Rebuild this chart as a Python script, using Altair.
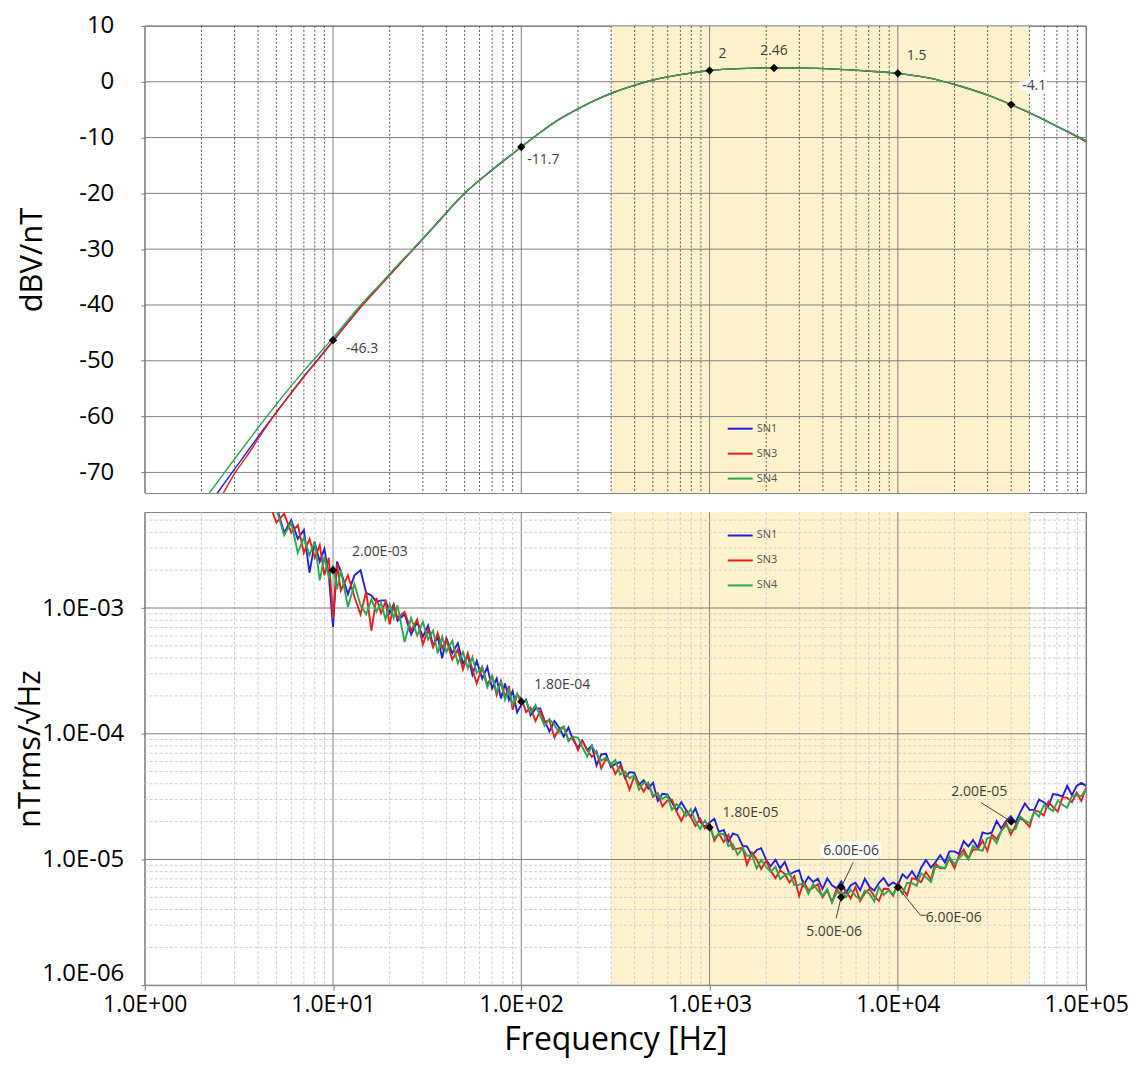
import altair as alt
import pandas as pd

# ---------------- data ----------------
SERIES = ["SN1", "SN3", "SN4"]
COLORS = ["#2020E0", "#E8201A", "#28A850"]

# upper panel: sensitivity [dBV/nT]
gain_freq = [2.0, 2.5, 3, 3.5, 4, 5, 6, 7, 8.2, 10, 12, 14.3, 18, 22, 26.7, 35, 50, 70, 100,
             126, 158, 200, 251, 316, 398, 501, 631, 794, 1000, 1259, 1585, 2200, 3162, 4600,
             7000, 10000, 15000, 20000, 30000, 40000, 55000, 70000, 85000, 100000]
gain_sn1 = [-77.5, -73.1, -69.4, -66.3, -63.6, -59.2, -55.7, -52.8, -50.0, -46.4, -43.1, -40.0,
            -36.3, -33.1, -30.0, -25.7, -20.0, -15.8, -11.7,
            -9.1, -6.8, -4.85, -3.2, -1.8, -0.65, 0.3, 1.0, 1.55, 2.0, 2.25, 2.4, 2.46, 2.43, 2.25,
            1.9, 1.5, 0.6, -0.5, -2.4, -4.1, -6.2, -8.0, -9.4, -10.6]
gain_sn3 = [-79.5, -74.8, -70.2, -67.0, -64.0, -59.3, -55.8, -52.9, -50.1, -46.5, -43.2, -40.1,
            -36.4, -33.1, -30.0, -25.6, -20.0, -15.8, -11.7,
            -9.1, -6.8, -4.85, -3.2, -1.8, -0.65, 0.3, 1.0, 1.55, 2.0, 2.25, 2.4, 2.46, 2.43, 2.25,
            1.9, 1.5, 0.6, -0.5, -2.4, -4.1, -6.2, -8.0, -9.5, -10.8]
gain_sn4 = [-75.6, -71.2, -67.6, -64.6, -62.0, -57.8, -54.5, -51.8, -49.2, -45.9, -42.7, -39.7,
            -36.1, -32.9, -29.9, -25.6, -20.0, -15.8, -11.7,
            -9.1, -6.8, -4.85, -3.2, -1.8, -0.65, 0.3, 1.0, 1.55, 2.0, 2.25, 2.4, 2.46, 2.43, 2.25,
            1.9, 1.5, 0.6, -0.5, -2.4, -4.1, -6.2, -8.0, -9.4, -10.6]

# lower panel: noise [nTrms/sqrt(Hz)]
noise_freq = [4, 4.5, 5, 5.5, 6, 6.5, 7, 7.5, 8, 8.5, 9, 9.5, 10, 10.5, 11, 12, 13, 14, 15, 16,
              17, 18, 19, 20, 21, 22, 24, 26, 28, 30, 32, 34, 36, 38, 40, 43, 46, 49, 52, 55,
              58, 62, 66, 70, 74, 78, 82, 86, 90, 95,
              100, 106, 112, 119, 126, 133, 141, 150, 158, 168, 178, 188, 200, 211, 224, 237,
              251, 266, 282, 299, 316, 335, 355, 376, 398, 422, 447, 473, 501, 531, 562, 596,
              631, 668, 708, 750, 794, 841, 891, 944,
              1000, 1060, 1120, 1190, 1260, 1330, 1410, 1500, 1580, 1680, 1780, 1880, 2000, 2110,
              2240, 2370, 2510, 2660, 2820, 2990, 3160, 3350, 3550, 3760, 3980, 4220, 4470, 4730,
              5010, 5310, 5620, 5960, 6310, 6680, 7080, 7500, 7940, 8410, 8910, 9440,
              10000, 10600, 11200, 11900, 12600, 13300, 14100, 15000, 15800, 16800, 17800, 18800,
              20000, 21100, 22400, 23700, 25100, 26600, 28200, 29900, 31600, 33500, 35500, 37600,
              39800, 42200, 44700, 47300, 50100, 53100, 56200, 59600, 63100, 66800, 70800, 75000,
              79400, 84100, 89100, 94400, 100000]
noise_sn1 = [8.32e-3, 5.89e-3, 6.46e-3, 3.98e-3, 5.01e-3, 3.55e-3, 4.17e-3, 1.91e-3, 3.31e-3, 2.34e-3,
             2.95e-3, 1.82e-3, 7.08e-4, 2.34e-3, 1.95e-3, 1.29e-3, 1.82e-3, 2.00e-3, 1.32e-3, 1.26e-3,
             1.12e-3, 1.15e-3, 1.15e-3, 9.12e-4, 1.07e-3, 7.94e-4, 8.91e-4, 6.17e-4, 7.76e-4, 5.89e-4,
             7.24e-4, 5.01e-4, 5.89e-4, 3.98e-4, 5.75e-4, 4.37e-4, 5.25e-4, 3.63e-4, 4.17e-4, 2.95e-4,
             3.80e-4, 2.75e-4, 3.39e-4, 2.29e-4, 2.75e-4, 1.91e-4, 2.51e-4, 1.86e-4, 2.19e-4, 1.48e-4,
             1.70e-4, 1.87e-4, 1.40e-4, 1.58e-4, 1.59e-4, 1.27e-4, 1.04e-4, 1.26e-4, 1.13e-4, 9.48e-5,
             1.12e-4, 9.02e-5, 7.76e-5, 8.81e-5, 7.41e-5, 8.04e-5, 5.62e-5, 6.84e-5, 6.92e-5, 5.43e-5,
             5.75e-5, 5.96e-5, 4.47e-5, 4.95e-5, 4.90e-5, 3.94e-5, 4.27e-5, 3.67e-5, 4.07e-5, 2.92e-5,
             3.33e-5, 3.30e-5, 2.85e-5, 2.46e-5, 2.86e-5, 2.48e-5, 2.19e-5, 2.55e-5, 2.00e-5, 1.82e-5,
             1.97e-5, 2.11e-5, 1.66e-5, 1.72e-5, 1.39e-5, 1.61e-5, 1.56e-5, 1.28e-5, 1.27e-5, 1.07e-5,
             1.19e-5, 1.23e-5, 9.89e-6, 8.83e-6, 9.93e-6, 8.49e-6, 9.55e-6, 7.60e-6, 7.98e-6, 8.20e-6,
             6.24e-6, 7.28e-6, 6.61e-6, 7.03e-6, 5.82e-6, 7.08e-6, 6.24e-6, 5.89e-6, 6.68e-6, 5.43e-6,
             6.24e-6, 6.53e-6, 5.69e-6, 7.03e-6, 6.03e-6, 5.65e-6, 6.53e-6, 7.11e-6, 6.17e-6, 6.56e-6,
             6.24e-6, 7.62e-6, 7.08e-6, 8.07e-6, 7.00e-6, 8.61e-6, 9.89e-6, 8.61e-6, 9.44e-6, 1.08e-5,
             9.44e-6, 1.16e-5, 1.16e-5, 1.11e-5, 1.40e-5, 1.27e-5, 1.43e-5, 1.24e-5, 1.64e-5, 1.60e-5,
             1.64e-5, 2.02e-5, 1.76e-5, 2.02e-5, 2.21e-5, 1.97e-5, 2.37e-5, 2.79e-5, 2.48e-5, 2.48e-5,
             2.99e-5, 2.85e-5, 2.66e-5, 3.31e-5, 3.27e-5, 3.16e-5, 3.85e-5, 3.24e-5, 3.85e-5, 4.07e-5,
             3.85e-5]
noise_sn3 = [7.41e-3, 7.41e-3, 4.79e-3, 5.62e-3, 3.98e-3, 4.57e-3, 2.75e-3, 3.55e-3, 2.51e-3, 3.16e-3,
             1.82e-3, 2.51e-3, 8.32e-4, 2.24e-3, 1.38e-3, 1.82e-3, 1.23e-3, 8.91e-4, 1.35e-3, 6.61e-4,
             1.20e-3, 9.12e-4, 1.12e-3, 7.41e-4, 1.05e-3, 8.32e-4, 9.33e-4, 6.61e-4, 8.13e-4, 5.13e-4,
             6.76e-4, 4.90e-4, 6.31e-4, 4.79e-4, 5.62e-4, 3.89e-4, 4.68e-4, 3.24e-4, 4.37e-4, 3.24e-4,
             2.51e-4, 3.39e-4, 2.45e-4, 2.88e-4, 2.04e-4, 2.63e-4, 1.95e-4, 2.40e-4, 1.55e-4, 2.04e-4,
             1.91e-4, 1.49e-4, 1.61e-4, 1.26e-4, 1.52e-4, 1.24e-4, 1.28e-4, 9.35e-5, 1.08e-4, 1.14e-4,
             8.91e-5, 9.44e-5, 7.41e-5, 8.81e-5, 7.41e-5, 6.53e-5, 7.24e-5, 5.31e-5, 6.31e-5, 5.82e-5,
             4.79e-5, 5.56e-5, 4.57e-5, 3.59e-5, 4.57e-5, 4.03e-5, 3.47e-5, 4.03e-5, 3.16e-5, 3.36e-5,
             2.64e-5, 2.94e-5, 2.99e-5, 2.40e-5, 2.03e-5, 2.42e-5, 2.19e-5, 1.85e-5, 2.10e-5, 1.77e-5,
             1.93e-5, 1.41e-5, 1.61e-5, 1.38e-5, 1.57e-5, 1.21e-5, 1.22e-5, 1.24e-5, 9.08e-6, 1.13e-5,
             9.98e-6, 8.41e-6, 9.77e-6, 8.15e-6, 7.11e-6, 8.20e-6, 7.67e-6, 6.55e-6, 7.36e-6, 5.12e-6,
             6.61e-6, 5.71e-6, 5.96e-6, 6.34e-6, 5.01e-6, 5.69e-6, 4.57e-6, 5.82e-6, 5.13e-6, 5.62e-6,
             4.90e-6, 6.03e-6, 4.68e-6, 5.40e-6, 5.82e-6, 5.09e-6, 4.68e-6, 5.85e-6, 5.82e-6, 5.15e-6,
             6.46e-6, 5.85e-6, 5.19e-6, 7.11e-6, 6.92e-6, 6.61e-6, 7.94e-6, 6.92e-6, 9.33e-6, 8.51e-6,
             8.51e-6, 1.02e-5, 8.51e-6, 1.07e-5, 1.20e-5, 1.02e-5, 1.20e-5, 1.20e-5, 1.41e-5, 1.17e-5,
             1.58e-5, 1.45e-5, 1.70e-5, 1.95e-5, 1.58e-5, 1.86e-5, 2.14e-5, 2.00e-5, 1.82e-5, 2.45e-5,
             2.40e-5, 2.24e-5, 2.88e-5, 2.60e-5, 2.40e-5, 3.13e-5, 3.09e-5, 2.85e-5, 3.39e-5, 2.92e-5,
             3.72e-5]
noise_sn4 = [8.91e-3, 6.46e-3, 6.17e-3, 3.80e-3, 4.79e-3, 2.75e-3, 3.63e-3, 2.63e-3, 3.39e-3, 1.66e-3,
             2.57e-3, 1.74e-3, 2.19e-3, 1.41e-3, 2.00e-3, 1.02e-3, 1.55e-3, 1.05e-3, 8.91e-4, 1.17e-3,
             9.33e-4, 1.10e-3, 8.13e-4, 1.07e-3, 8.32e-4, 1.05e-3, 5.37e-4, 8.32e-4, 6.03e-4, 7.76e-4,
             5.62e-4, 6.61e-4, 4.37e-4, 5.89e-4, 4.47e-4, 5.50e-4, 3.63e-4, 4.47e-4, 3.31e-4, 4.07e-4,
             3.02e-4, 3.39e-4, 2.34e-4, 2.88e-4, 2.14e-4, 2.57e-4, 1.86e-4, 2.24e-4, 1.70e-4, 2.09e-4,
             1.74e-4, 1.83e-4, 1.47e-4, 1.69e-4, 1.39e-4, 1.16e-4, 1.31e-4, 1.18e-4, 1.03e-4, 1.14e-4,
             8.71e-5, 9.44e-5, 9.33e-5, 7.85e-5, 6.61e-5, 8.04e-5, 6.92e-5, 6.10e-5, 6.46e-5, 5.69e-5,
             6.17e-5, 4.73e-5, 5.01e-5, 4.42e-5, 4.68e-5, 3.59e-5, 4.07e-5, 4.03e-5, 3.24e-5, 3.28e-5,
             3.03e-5, 3.23e-5, 2.48e-5, 2.76e-5, 2.55e-5, 2.21e-5, 2.51e-5, 2.02e-5, 1.75e-5, 2.04e-5,
             1.80e-5, 1.48e-5, 1.61e-5, 1.59e-5, 1.28e-5, 1.32e-5, 1.09e-5, 1.24e-5, 1.07e-5, 1.08e-5,
             8.49e-6, 9.89e-6, 8.71e-6, 7.96e-6, 8.75e-6, 6.98e-6, 7.50e-6, 7.87e-6, 6.27e-6, 6.30e-6,
             6.46e-6, 5.33e-6, 6.38e-6, 5.65e-6, 5.13e-6, 5.82e-6, 4.57e-6, 5.43e-6, 5.50e-6, 5.01e-6,
             5.75e-6, 5.13e-6, 4.79e-6, 5.65e-6, 5.31e-6, 4.65e-6, 6.03e-6, 5.21e-6, 5.69e-6, 5.27e-6,
             6.17e-6, 5.33e-6, 6.53e-6, 6.49e-6, 6.17e-6, 7.76e-6, 7.24e-6, 6.61e-6, 8.71e-6, 8.71e-6,
             8.51e-6, 1.05e-5, 9.12e-6, 1.02e-5, 1.12e-5, 1.00e-5, 1.29e-5, 1.20e-5, 1.17e-5, 1.48e-5,
             1.51e-5, 1.35e-5, 1.70e-5, 1.86e-5, 1.70e-5, 1.74e-5, 2.19e-5, 2.04e-5, 1.95e-5, 2.40e-5,
             2.19e-5, 2.69e-5, 2.57e-5, 2.43e-5, 2.95e-5, 2.72e-5, 2.57e-5, 3.20e-5, 3.24e-5, 3.20e-5,
             3.63e-5]

# shaded frequency band [Hz]
band_lo = [300]
band_hi = [50000]

# annotated points
gain_mark_freq = [10, 100, 1000, 2200, 10000, 40000]
gain_mark_val = [-46.3, -11.7, 2.0, 2.46, 1.5, -4.1]
gain_mark_text = ["-46.3", "-11.7", "2", "2.46", "1.5", "-4.1"]

noise_mark_freq = [10, 100, 1000, 5000, 5000, 10000, 40000]
noise_mark_val = [2.0e-3, 1.8e-4, 1.8e-5, 6.0e-6, 5.0e-6, 6.0e-6, 2.0e-5]
noise_mark_text = ["2.00E-03", "1.80E-04", "1.80E-05", "6.00E-06", "5.00E-06", "6.00E-06", "2.00E-05"]

# leader lines of the lower-panel labels (data units)
leader_id = [0, 0, 1, 1, 2, 2, 2, 3, 3]
leader_freq = [5000, 5800, 5000, 4700, 10000, 13200, 14200, 40000, 27700]
leader_val = [6.0e-6, 9.5e-6, 5.0e-6, 3.4e-6, 6.0e-6, 3.6e-6, 3.6e-6, 2.0e-5, 2.83e-5]

# axis tick values
x_major = [1, 10, 100, 1000, 10000, 100000]
x_minor = [m * 10 ** d for d in range(0, 5) for m in range(2, 10)]
gain_ticks = [-70, -60, -50, -40, -30, -20, -10, 0, 10]
noise_major = [1e-6, 1e-5, 1e-4, 1e-3]
noise_minor = [m * 10.0 ** d for d in range(-6, -2) for m in range(2, 10) if m * 10.0 ** d < 5.8e-3]

# ---------------- layout / style ----------------
W = 943
H_TOP = 468
H_BOT = 474
FONT = "Open Sans"

gain_label_dx = [13, 6, 9, 0, 9, 11]
gain_label_dy = [9, 13, -17, -17, -17, -19]
gain_label_align = ["left", "left", "left", "center", "left", "left"]
gain_label_halo = [False, False, False, False, False, True]

noise_label_dx = [19, 13, 13, 10, -7, 28, -32]
noise_label_dy = [-18, -17, -14, -36, 35, 31, -30]
noise_label_align = ["left", "left", "left", "center", "center", "left", "center"]
noise_label_halo = [False, False, False, True, False, False, False]

# ---------------- frames ----------------
gain_df = pd.DataFrame({"f": gain_freq, "SN1": gain_sn1, "SN3": gain_sn3, "SN4": gain_sn4}).melt(
    id_vars="f", var_name="series", value_name="v")
noise_df = pd.DataFrame({"f": noise_freq, "SN1": noise_sn1, "SN3": noise_sn3, "SN4": noise_sn4}).melt(
    id_vars="f", var_name="series", value_name="v")
band_df = pd.DataFrame({"f": band_lo, "f2": band_hi})
xmaj_df = pd.DataFrame({"f": x_major})
xmin_df = pd.DataFrame({"f": x_minor})
gtick_df = pd.DataFrame({"v": gain_ticks})
nmaj_df = pd.DataFrame({"v": noise_major})
nmin_df = pd.DataFrame({"v": noise_minor})
gmark_df = pd.DataFrame({"f": gain_mark_freq, "v": gain_mark_val, "t": gain_mark_text})
nmark_df = pd.DataFrame({"f": noise_mark_freq, "v": noise_mark_val, "t": noise_mark_text})
leader_df = pd.DataFrame({"id": leader_id, "f": leader_freq, "v": leader_val,
                          "o": list(range(len(leader_id)))})

# ---------------- scales / encodings ----------------
xs = alt.Scale(type="log", domain=[1, 100000], nice=False)
ys_top = alt.Scale(domain=[-73.7, 10], nice=False, zero=False)
ys_bot = alt.Scale(type="log", domain=[1e-6, 5.8e-3], nice=False)

x_top = alt.X("f:Q", scale=xs, axis=None)
y_top = alt.Y("v:Q", scale=ys_top, axis=alt.Axis(
    values=gain_ticks, grid=False, domain=False, tickSize=4, tickColor="#808080",
    labelFont=FONT, labelFontSize=24, labelColor="black", labelPadding=27,
    labelExpr="datum.value + ''", labelFlush=False,
    title="dBV/nT", titleFont=FONT, titleFontSize=31, titleFontWeight="normal",
    titleColor="black", titlePadding=30))

x_axis_bot = alt.Axis(
    values=x_major, grid=False, domain=False, tickSize=5, tickColor="#808080",
    labelFont=FONT, labelFontSize=23, labelColor="black", labelPadding=3,
    labelFlush=False, labelOverlap=False,
    labelExpr="'1.0E+0' + round(log(datum.value) / LN10)",
    title="Frequency [Hz]", titleFont=FONT, titleFontSize=32, titleFontWeight="normal",
    titleColor="black", titlePadding=8)
x_bot = alt.X("f:Q", scale=xs, axis=x_axis_bot)
y_bot = alt.Y("v:Q", scale=ys_bot, axis=alt.Axis(
    values=noise_major, grid=False, domain=False, tickSize=4, tickColor="#808080",
    labelFont=FONT, labelFontSize=24, labelColor="black", labelPadding=17,
    labelFlush=True, labelFlushOffset=0,
    labelExpr="'1.0E' + (round(log(datum.value) / LN10) < 0 ? '-' : '+') + '0' + abs(round(log(datum.value) / LN10))",
    title="nTrms/\u221aHz", titleFont=FONT, titleFontSize=31, titleFontWeight="normal",
    titleColor="black", titlePadding=-5))


def legend(y):
    return alt.Legend(orient="none", legendX=583, legendY=y, title=None,
                      symbolType="stroke", symbolSize=625, symbolStrokeWidth=2,
                      labelFont=FONT, labelFontSize=11, labelColor="#555555",
                      labelOffset=3, rowPadding=6, padding=0)


def panel(x_enc, y_enc, data_df, line_w, leg_y, major_y_df, minor_y_df, minor_x_style,
          mark_df, label_dx, label_dy, label_align, label_halo, h, extra=None, interp="linear"):
    shade = alt.Chart(band_df).mark_rect(color="#FFF2CC").encode(
        x=x_enc, x2="f2:Q", y=alt.value(0), y2=alt.value(h))
    vmin = alt.Chart(xmin_df).mark_rule(**minor_x_style).encode(x=x_enc)
    vmaj = alt.Chart(xmaj_df).mark_rule(color="#808080", strokeWidth=1).encode(x=x_enc)
    layers = [shade, vmin, vmaj]
    if minor_y_df is not None:
        layers.append(alt.Chart(minor_y_df).mark_rule(
            color="#cfcfcf", strokeWidth=1, strokeDash=[3, 2]).encode(y=y_enc))
    layers.append(alt.Chart(major_y_df).mark_rule(color="#808080", strokeWidth=1).encode(y=y_enc))
    layers.append(alt.Chart(data_df).mark_line(strokeWidth=line_w, clip=True, interpolate=interp).encode(
        x=x_enc, y=y_enc,
        color=alt.Color("series:N", scale=alt.Scale(domain=SERIES, range=COLORS), legend=legend(leg_y)),
        order=alt.Order("f:Q")))
    if extra is not None:
        layers.append(extra)
    layers.append(alt.Chart(mark_df).mark_point(
        shape="diamond", filled=True, color="black", opacity=1, size=70).encode(x=x_enc, y=y_enc))
    for i in range(len(mark_df)):
        one = mark_df.iloc[[i]]
        style = dict(align=label_align[i], baseline="middle", dx=label_dx[i], dy=label_dy[i],
                     font=FONT, fontSize=14)
        if label_halo[i]:
            layers.append(alt.Chart(one).mark_text(color="white", stroke="white", strokeWidth=7,
                                                   **style).encode(x=x_enc, y=y_enc, text="t:N"))
        layers.append(alt.Chart(one).mark_text(color="#404040", **style).encode(
            x=x_enc, y=y_enc, text="t:N"))
    return alt.layer(*layers).properties(width=W, height=h)


top = panel(x_top, y_top, gain_df, 1.4, 390, gtick_df, None,
            dict(color="#555555", strokeWidth=1, strokeDash=[2, 2]),
            gmark_df, gain_label_dx, gain_label_dy, gain_label_align, gain_label_halo, H_TOP,
            interp="monotone")

leaders = alt.Chart(leader_df).mark_line(color="#404040", strokeWidth=1).encode(
    x=x_bot, y=y_bot, detail="id:N", order="o:Q")

bottom = panel(x_bot, y_bot, noise_df, 1.9, 10, nmaj_df, nmin_df,
               dict(color="#cfcfcf", strokeWidth=1, strokeDash=[3, 2]),
               nmark_df, noise_label_dx, noise_label_dy, noise_label_align, noise_label_halo,
               H_BOT, extra=leaders)

chart = alt.vconcat(top, bottom, spacing=17).resolve_scale(
    color="independent", y="independent").resolve_legend(color="independent").properties(
    padding={"left": 6, "top": 4, "right": 1, "bottom": 2}
).configure(font=FONT).configure_view(stroke="#808080", strokeWidth=1)

chart.save("out.html", embed_options={"renderer": "svg", "actions": False})
